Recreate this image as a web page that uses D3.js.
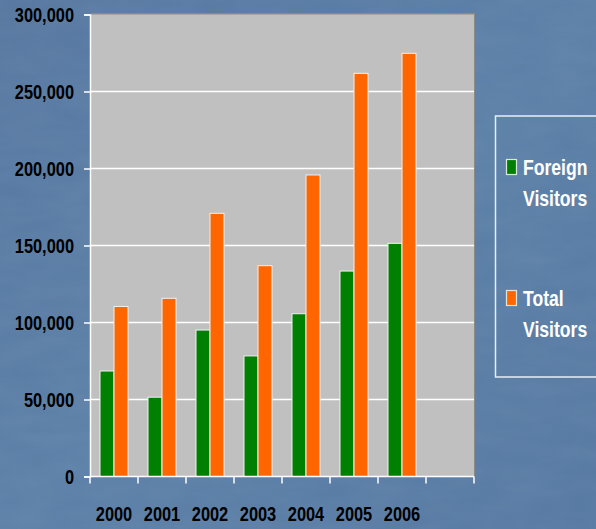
<!DOCTYPE html>
<html><head><meta charset="utf-8">
<script src="https://cdn.jsdelivr.net/npm/d3@7"></script>
<style>
html,body{margin:0;padding:0;background:#5a7ea7;}
svg{display:block;}
text{font-family:"Liberation Sans",Arial,sans-serif;font-weight:bold;}
</style></head>
<body>
<svg id="chart" width="596" height="529"></svg>
<script>
const years = ["2000","2001","2002","2003","2004","2005","2006"];
const foreignVisitors = [68500, 51500, 95100, 78300, 105700, 133400, 151400];
const totalVisitors = [110400, 115700, 170900, 136900, 195800, 261800, 274800];
const seriesNames = ["Foreign Visitors", "Total Visitors"];
const seriesColors = ["#008000", "#ff6600"];
const yTicks = [0, 50000, 100000, 150000, 200000, 250000, 300000];

const svg = d3.select("#chart");
const W = 596, H = 529;

// narrow the bold sans to mimic a condensed face
function narrow(sel, k) {
  sel.each(function() {
    const len = this.getComputedTextLength();
    if (len > 0) {
      d3.select(this).attr("textLength", len * k).attr("lengthAdjust", "spacingAndGlyphs");
    }
  });
}

// background texture
const defs = svg.append("defs");
const grad = defs.append("linearGradient").attr("id","bg").attr("x1","0").attr("y1","0").attr("x2","1").attr("y2","1");
grad.append("stop").attr("offset","0").attr("stop-color","#5677a0");
grad.append("stop").attr("offset","0.5").attr("stop-color","#5b7fa7");
grad.append("stop").attr("offset","1").attr("stop-color","#5679a2");
const filt = defs.append("filter").attr("id","noise").attr("x","0").attr("y","0").attr("width","100%").attr("height","100%");
filt.append("feTurbulence").attr("type","fractalNoise").attr("baseFrequency","0.02 0.06").attr("numOctaves","3").attr("seed","4").attr("result","n");
filt.append("feColorMatrix").attr("in","n").attr("type","matrix")
  .attr("values","0 0 0 0 1  0 0 0 0 1  0 0 0 0 1  0 0 0 0.12 0");
svg.append("rect").attr("width",W).attr("height",H).attr("fill","url(#bg)");
svg.append("rect").attr("width",W).attr("height",H).attr("filter","url(#noise)").attr("opacity",0.5);

const plot = {left: 90, right: 474, top: 14.5, bottom: 476.5};
const x = d3.scaleBand().domain([...years, ""]).range([plot.left, plot.right]).padding(0);
const xInner = d3.scaleBand().domain(seriesNames).range([10, 38]).padding(0);
const y = d3.scaleLinear().domain([0, 300000]).range([plot.bottom, plot.top]);

// plot area
svg.append("rect").attr("x", plot.left + 1).attr("y", plot.top - 1.5)
  .attr("width", plot.right - plot.left).attr("height", plot.bottom - plot.top + 1.5)
  .attr("fill", "#8a8a8a");
svg.append("rect").attr("x", plot.left).attr("y", plot.top)
  .attr("width", plot.right - plot.left).attr("height", plot.bottom - plot.top)
  .attr("fill", "#c0c0c0");

// gridlines
svg.append("g").selectAll("line").data(yTicks.filter(d => d > 0 && d < 300000)).join("line")
  .attr("x1", plot.left).attr("x2", plot.right)
  .attr("y1", d => y(d)).attr("y2", d => y(d))
  .attr("stroke", "#ffffff").attr("stroke-width", 1.6);

// bars
const rows = years.map((yr, i) => ({year: yr, values: [foreignVisitors[i], totalVisitors[i]]}));
const groups = svg.append("g").selectAll("g").data(rows).join("g")
  .attr("transform", d => `translate(${x(d.year)},0)`);
groups.selectAll("rect").data(d => d.values.map((v, j) => ({name: seriesNames[j], v, c: seriesColors[j]}))).join("rect")
  .attr("x", d => xInner(d.name))
  .attr("width", xInner.bandwidth())
  .attr("y", d => y(d.v))
  .attr("height", d => y(0) - y(d.v))
  .attr("fill", d => d.c)
  .attr("stroke", "#f0f0f0").attr("stroke-width", 1);

// y axis
const yAxis = d3.axisLeft(y).tickValues(yTicks).tickFormat(d3.format(",")).tickSize(6).tickPadding(10);
const gy = svg.append("g").attr("transform", `translate(${plot.left},0)`).call(yAxis);
gy.select(".domain").attr("stroke", "#ffffff").attr("stroke-width", 1.5);
gy.selectAll(".tick line").attr("stroke", "#ffffff").attr("stroke-width", 1.5);
gy.selectAll(".tick text").attr("fill", "#000").attr("font-size", 21)
  .attr("font-family", '"Liberation Sans",Arial,sans-serif').attr("font-weight", "bold")
  .call(narrow, 0.78);

// x axis line + ticks at band boundaries
const boundaries = [...x.domain().map(d => x(d)), plot.right];
svg.append("line").attr("x1", plot.left).attr("x2", plot.right)
  .attr("y1", plot.bottom).attr("y2", plot.bottom).attr("stroke", "#ffffff").attr("stroke-width", 1.5);
svg.append("g").selectAll("line").data(boundaries).join("line")
  .attr("x1", d => d).attr("x2", d => d)
  .attr("y1", plot.bottom).attr("y2", plot.bottom + 7)
  .attr("stroke", "#ffffff").attr("stroke-width", 1.5);

// x labels
const xAxis = d3.axisBottom(x).tickValues(years).tickSize(0).tickPadding(30);
const gx = svg.append("g").attr("transform", `translate(0,${plot.bottom})`).call(xAxis);
gx.select(".domain").remove();
gx.selectAll(".tick text").attr("fill", "#000").attr("font-size", 21)
  .attr("font-family", '"Liberation Sans",Arial,sans-serif').attr("font-weight", "bold")
  .call(narrow, 0.78);

// legend
const lg = svg.append("g");
lg.append("rect").attr("x", 495.5).attr("y", 116).attr("width", 130).attr("height", 261)
  .attr("fill", "none").attr("stroke", "#e8eef6").attr("stroke-width", 1.5);
const legendY = [159, 290];
seriesNames.forEach((name, i) => {
  const g = lg.append("g").attr("transform", `translate(506,${legendY[i]})`);
  g.append("rect").attr("x", 0.5).attr("y", 0.5).attr("width", 10).attr("height", 15)
    .attr("fill", seriesColors[i]).attr("stroke", "#dde6dd").attr("stroke-width", 1.2);
  const words = name.split(" ");
  words.forEach((w, k) => {
    g.append("text").attr("fill", "#fff").attr("font-size", 22)
      .attr("transform", `translate(17,${16 + k * 31}) scale(0.8,1)`)
      .text(w);
  });
});
</script>
</body></html>
